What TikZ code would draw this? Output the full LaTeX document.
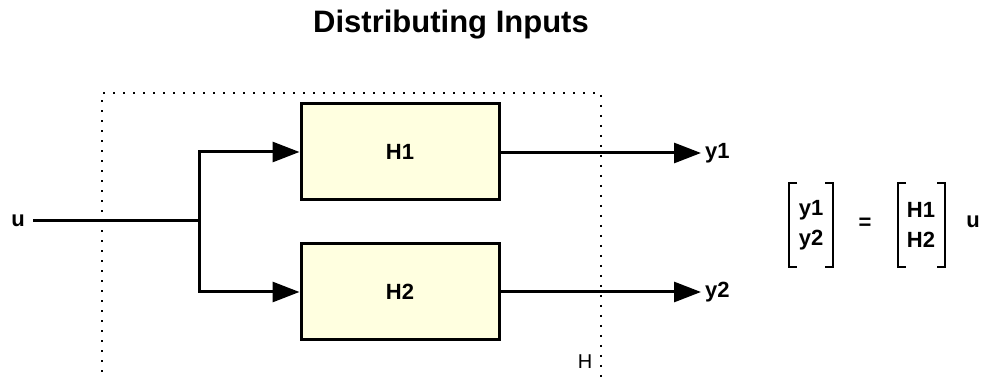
\documentclass[tikz,border=0pt]{standalone}
\usepackage{fontspec}
\setmainfont{Liberation Sans}
\usetikzlibrary{arrows.meta}
\definecolor{blockfill}{RGB}{255,255,224}
\tikzset{
  block/.style={draw=black, line width=3pt, fill=blockfill, minimum width=198pt, minimum height=96pt, inner sep=0pt, font=\fontsize{22}{26}\selectfont\bfseries},
  lbl/.style={inner sep=0pt, font=\fontsize{22}{26}\selectfont\bfseries},
  wire/.style={line width=3pt},
  sig/.style={wire, -{Triangle[length=27pt,width=20pt]}},
  dotbox/.style={line width=2pt, dash pattern=on 2pt off 8pt},
  brk/.style={line width=2pt}
}
\begin{document}
\begin{tikzpicture}[x=1pt,y=-1pt]
\useasboundingbox (0,0) rectangle (986,379);
% title
\node[inner sep=0pt, font=\fontsize{31}{36}\selectfont\bfseries] (title) at (451,25) {Distributing Inputs};
% dotted system boundary
\draw[dotbox] (102,392) -- (102,93) -- (601,93) -- (601,392);
\node[inner sep=0pt, font=\fontsize{20}{24}\selectfont] (Hlbl) at (585,362) {H};
% blocks
\node[block] (h1) at (400,152) {H1};
\node[block] (h2) at (400,292) {H2};
% input
\node[lbl, anchor=east] (u) at (25,221) {u};
\coordinate (br) at (199,221);
\draw[wire] ([xshift=8pt]u.east) -- (br);
\draw[sig] (br) |- (h1.west);
\draw[sig] (br) |- (h2.west);
% outputs
\coordinate (y1tip) at (701,153);
\coordinate (y2tip) at (701,292);
\draw[sig] (h1.east |- y1tip) -- (y1tip);
\draw[sig] (h2.east |- y2tip) -- (y2tip);
\node[lbl, anchor=west] (y1) at (705,153) {y1};
\node[lbl, anchor=west] (y2) at (705,292) {y2};
% matrix equation
\node[lbl] (my1) at (811,210) {y1};
\node[lbl] (my2) at (811,240) {y2};
\node[lbl] (meq) at (865,224) {=};
\node[lbl] (mh1) at (921,210) {H1};
\node[lbl] (mh2) at (921,240) {H2};
\node[lbl] (mu) at (973,222) {u};
\draw[brk] (797,183) -- (789,183) -- (789,267) -- (797,267);
\draw[brk] (825,183) -- (833,183) -- (833,267) -- (825,267);
\draw[brk] (906,183) -- (898,183) -- (898,267) -- (906,267);
\draw[brk] (937,183) -- (945,183) -- (945,267) -- (937,267);
\end{tikzpicture}
\end{document}
